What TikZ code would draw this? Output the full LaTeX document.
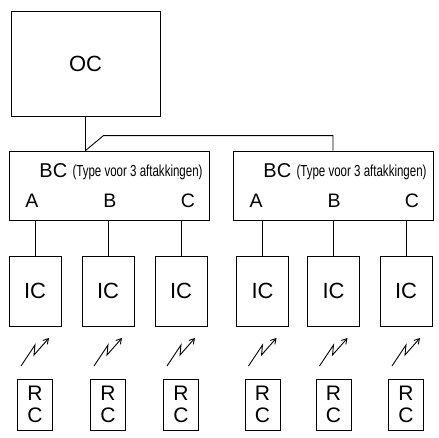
\documentclass[tikz,border=0pt]{standalone}
\usepackage{fontspec}
\setmainfont{Liberation Sans}
\usetikzlibrary{arrows.meta}
\begin{document}
\begin{tikzpicture}[x=1pt,y=1pt,line width=0.9pt,
  box/.style={draw,line width=0.9pt,inner sep=0pt},
  ocbox/.style={box,minimum width=149pt,minimum height=105pt,font=\fontsize{22}{24}\selectfont},
  bcbox/.style={box,minimum width=200pt,minimum height=69pt},
  icbox/.style={box,minimum width=52pt,minimum height=70pt,font=\fontsize{22}{24}\selectfont},
  rcbox/.style={box,minimum width=35pt,minimum height=51pt,align=center,font=\fontsize{21}{22}\selectfont},
  bclabel/.style={inner sep=0pt,anchor=base west,font=\fontsize{20}{22}\selectfont},
  typelabel/.style={inner sep=0pt,anchor=base east,font=\fontsize{16}{18}\selectfont},
  letter/.style={inner sep=0pt,anchor=base,font=\fontsize{19.5}{21}\selectfont},
  link/.style={line width=0.9pt},
  bolt/.style={line width=0.9pt,-{Straight Barb[length=5pt,width=6pt]}}]
\useasboundingbox (0,-437) rectangle (439,0);
\node[ocbox] (OC) at (85.5,-63.5) {OC};
\node[bcbox] (BC1) at (109.5,-185.5) {};
\node[bcbox] (BC2) at (333,-185.5) {};
\node[bclabel] (BCt1) at (39,-177) {BC};
\node[typelabel] (Ty1) at (203,-176) {\scalebox{0.72}[1]{(Type voor 3 aftakkingen)}};
\node[letter] (A1) at (32,-207) {A};
\node[letter] (B1) at (110,-207) {B};
\node[letter] (C1) at (188,-207) {C};
\node[bclabel] (BCt2) at (263,-177) {BC};
\node[typelabel] (Ty2) at (427,-176) {\scalebox{0.72}[1]{(Type voor 3 aftakkingen)}};
\node[letter] (A2) at (256,-207) {A};
\node[letter] (B2) at (334,-207) {B};
\node[letter] (C2) at (412,-207) {C};
\draw[link] (OC.south) -- (OC.south |- BC1.north) coordinate (J);
\draw[link] (J) -- ++(18,15) -| (BC2.north);
\node[icbox] (IC1) at (35,-291) {IC};
\node[icbox] (IC2) at (108,-291) {IC};
\node[icbox] (IC3) at (181,-291) {IC};
\node[icbox] (IC4) at (262.5,-291) {IC};
\node[icbox] (IC5) at (333.5,-291) {IC};
\node[icbox] (IC6) at (406,-291) {IC};
\node[rcbox] (RC1) at (35,-404.5) {R\\C};
\node[rcbox] (RC2) at (108,-404.5) {R\\C};
\node[rcbox] (RC3) at (181,-404.5) {R\\C};
\node[rcbox] (RC4) at (262.5,-404.5) {R\\C};
\node[rcbox] (RC5) at (333.5,-404.5) {R\\C};
\node[rcbox] (RC6) at (406,-404.5) {R\\C};
\draw[link] (IC1.north) -- (IC1.north |- BC1.south);
\draw[link] (IC2.north) -- (IC2.north |- BC1.south);
\draw[link] (IC3.north) -- (IC3.north |- BC1.south);
\draw[link] (IC4.north) -- (IC4.north |- BC2.south);
\draw[link] (IC5.north) -- (IC5.north |- BC2.south);
\draw[link] (IC6.north) -- (IC6.north |- BC2.south);
\draw[bolt] (21,-366) -- (35,-345) -- (34,-355) -- (49,-338);
\draw[bolt] (94,-366) -- (108,-345) -- (107,-355) -- (122,-338);
\draw[bolt] (167,-366) -- (181,-345) -- (180,-355) -- (195,-338);
\draw[bolt] (248.5,-366) -- (262.5,-345) -- (261.5,-355) -- (276.5,-338);
\draw[bolt] (319.5,-366) -- (333.5,-345) -- (332.5,-355) -- (347.5,-338);
\draw[bolt] (392,-366) -- (406,-345) -- (405,-355) -- (420,-338);
\end{tikzpicture}
\end{document}
